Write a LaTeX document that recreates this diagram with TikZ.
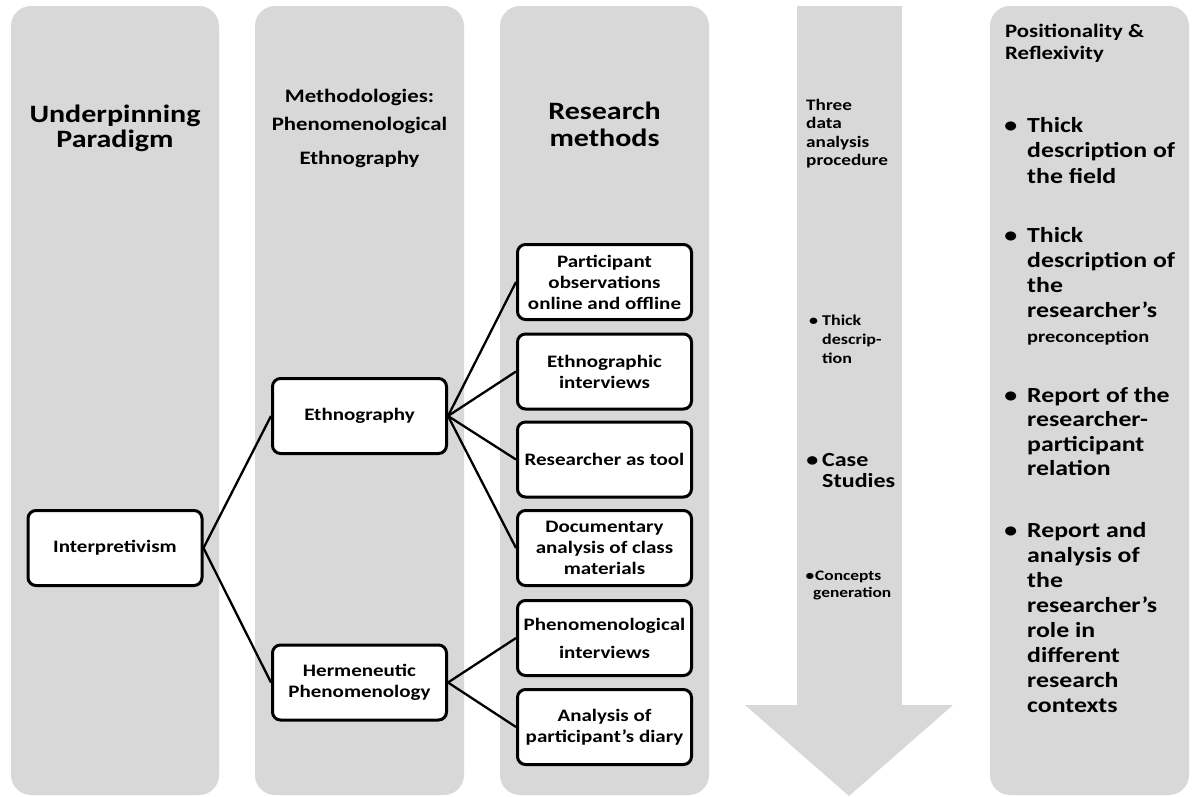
\documentclass[tikz,border=0pt]{standalone}
\usepackage{fontspec}
\setmainfont{Carlito}[FakeStretch=1.2]
\definecolor{colgray}{RGB}{216,216,216}
\newcommand{\fs}[2]{\fontsize{#1pt}{#2pt}\selectfont\bfseries}
\newcommand{\bul}[1]{\llap{\textbullet\hspace{#1}}}

\begin{document}
\begin{tikzpicture}[x=1pt, y=-1pt,
    column/.style={fill=colgray, rounded corners=20pt},
    method/.style={draw=black, line width=3pt, rounded corners=8pt, fill=white,
        minimum width=174pt, minimum height=75pt, align=center, inner sep=2pt,
        font=\fs{17.5}{21}},
    title/.style={align=center, inner sep=0pt},
    plain/.style={align=left, inner sep=0pt, anchor=north west},
    link/.style={line width=2.3pt}]

    % Rahmen
    \useasboundingbox (0,0) rectangle (1192,796);

    % Spalten
    \fill[column] (11,6) rectangle (219,795);
    \fill[column] (255,6) rectangle (464,795);
    \fill[column] (500,6) rectangle (709,795);
    \fill[column] (990,6) rectangle (1189,795);
    \fill[colgray] (797,6) -- (902,6) -- (902,705) -- (953,705) -- (849,796)
        -- (745,705) -- (797,705) -- cycle;

    % Spaltentitel
    \node[title, font=\fs{25}{25}] (tparadigm) at (115,128) {Underpinning\\Paradigm};
    \node[title, font=\fs{19}{28}] (tmethodology) at (359.5,128.5)
        {Methodologies:\\Phenomenological\\[6pt]Ethnography};
    \node[title, font=\fs{25}{27}] (tmethods) at (604.5,124.5) {Research\\methods};
    \node[plain, font=\fs{16}{18.3}] (tanalysis) at (806,99)
        {Three\\data\\analysis\\procedure};
    \node[plain, font=\fs{19}{22}] (tposition) at (1005,24)
        {Positionality \&\\Reflexivity};

    % Kaesten
    \node[method] (interp) at (115,548) {Interpretivism};
    \node[method] (ethno) at (359.5,416) {Ethnography};
    \node[method] (herm) at (359.5,682.5) {Hermeneutic\\Phenomenology};
    \node[method] (obs) at (604.5,282) {Participant\\observations\\online and offline};
    \node[method] (einter) at (604.5,371.5) {Ethnographic\\interviews};
    \node[method] (tool) at (604.5,459.5) {Researcher as tool};
    \node[method] (doc) at (604.5,548) {Documentary\\analysis of class\\materials};
    \node[method] (pinter) at (604.5,638) {Phenomenological\\[7pt]interviews};
    \node[method] (diary) at (604.5,727) {Analysis of\\participant’s diary};

    % Verbindungen
    \foreach \t in {ethno,herm} \draw[link] (interp.east) -- (\t.west);
    \foreach \t in {obs,einter,tool,doc} \draw[link] (ethno.east) -- (\t.west);
    \foreach \t in {pinter,diary} \draw[link] (herm.east) -- (\t.west);

    % Analyseschritte (Pfeil)
    \node[plain, font=\fs{15}{19}] (athick) at (822,314.5) {\bul{4pt}Thick\\descrip-\\tion};
    \node[plain, font=\fs{20}{21}] (acase) at (822,453) {\bul{4pt}Case\\Studies};
    \node[plain, font=\fs{14.5}{17}] (aconcept) at (815,571) {\bul{1pt}Concepts\\\hspace*{-2pt}generation};

    % Positionalitaet
    \node[plain, font=\fs{21.5}{25.5}] (pfield) at (1027,117)
        {\bul{10pt}Thick\\description of\\the field};
    \node[plain, font=\fs{21.5}{25}] (ppre) at (1027,227)
        {\bul{10pt}Thick\\description of\\the\\researcher’s\\{\fontsize{17pt}{24pt}\selectfont preconception}};
    \node[plain, font=\fs{21.5}{24.5}] (prel) at (1027,387)
        {\bul{10pt}Report of the\\researcher-\\participant\\relation};
    \node[plain, font=\fs{21.5}{25}] (prole) at (1027,522)
        {\bul{10pt}Report and\\analysis of\\the\\researcher’s\\role in\\different\\research\\contexts};
\end{tikzpicture}
\end{document}
